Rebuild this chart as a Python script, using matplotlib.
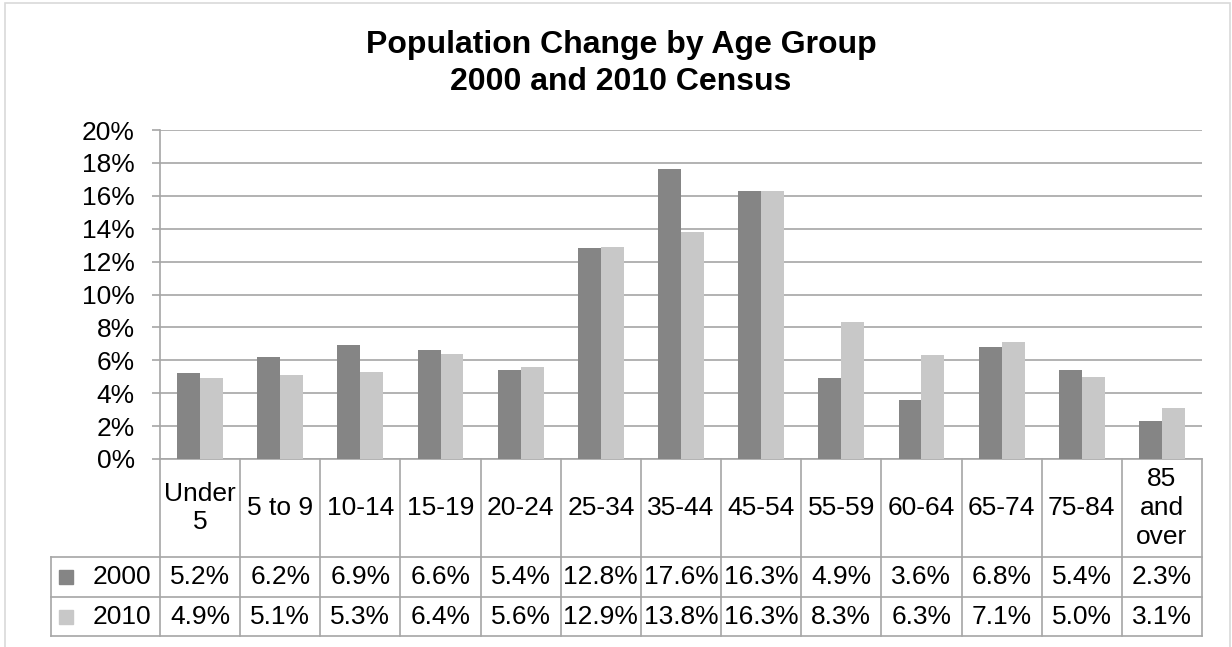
import numpy as np
import matplotlib.pyplot as plt
from matplotlib.patches import Rectangle

plt.rcParams['font.family'] = ['Liberation Sans', 'DejaVu Sans']

age_groups = ["Under\n5", "5 to 9", "10-14", "15-19", "20-24", "25-34", "35-44",
              "45-54", "55-59", "60-64", "65-74", "75-84", "85\nand\nover"]
pct_2000 = [5.2, 6.2, 6.9, 6.6, 5.4, 12.8, 17.6, 16.3, 4.9, 3.6, 6.8, 5.4, 2.3]
pct_2010 = [4.9, 5.1, 5.3, 6.4, 5.6, 12.9, 13.8, 16.3, 8.3, 6.3, 7.1, 5.0, 3.1]
series_names = ["2000", "2010"]
y_ticks = [0, 2, 4, 6, 8, 10, 12, 14, 16, 18, 20]

W, H = 1232, 647
dark, light = "#858585", "#c8c8c8"
grid_col = "#a6a6a6"
fs = 19

fig = plt.figure(figsize=(W / 100, H / 100), dpi=100)

# outer chart border
fig.patches.append(Rectangle((5 / W, -0.05), 1225 / W, 1.05 - 3 / H,
                             transform=fig.transFigure, fill=False,
                             edgecolor="#d9d9d9", linewidth=1.2))

# plot area in pixels
left, right, top, bottom = 160, 1202, 130, 459
ax = fig.add_axes([left / W, 1 - bottom / H, (right - left) / W, (bottom - top) / H])

n = len(age_groups)
x = np.arange(n)
w = 1 / 3.5  # excel gap width 150%
ax.bar(x - w / 2, pct_2000, w, color=dark, zorder=3)
ax.bar(x + w / 2, pct_2010, w, color=light, zorder=3)

ax.set_xlim(-0.5, n - 0.5)
ax.set_ylim(0, 20)
ax.set_yticks(y_ticks)
ax.set_yticklabels([f"{t}%" for t in y_ticks], fontsize=fs)
ax.set_xticks([])
ax.yaxis.grid(True, color=grid_col, linewidth=1.2, zorder=0)
ax.tick_params(axis="y", length=6, width=1.2, color=grid_col, pad=12)
for s in ["top", "right"]:
    ax.spines[s].set_visible(False)
for s in ["left", "bottom"]:
    ax.spines[s].set_color(grid_col)
    ax.spines[s].set_linewidth(1.2)

# data table under the axis (axes coordinates)
ph = bottom - top
row_hdr = -(557 - bottom) / ph
row_a = -(597 - bottom) / ph
row_b = -(636 - bottom) / ph
leg_left = -(left - 51) / (right - left)
lkw = dict(transform=ax.transAxes, color=grid_col, linewidth=1.2, clip_on=False)

for i in range(n + 1):
    ax.plot([i / n, i / n], [0, row_b], **lkw)
for yy in [row_hdr, row_a, row_b]:
    ax.plot([leg_left, 1], [yy, yy], **lkw)
ax.plot([leg_left, leg_left], [row_hdr, row_b], **lkw)

for i, lab in enumerate(age_groups):
    cx = (i + 0.5) / n
    ax.text(cx, row_hdr / 2, lab, transform=ax.transAxes, ha="center", va="center",
            fontsize=fs, linespacing=1.25)
    ax.text(cx, (row_hdr + row_a) / 2, f"{pct_2000[i]:.1f}%", transform=ax.transAxes,
            ha="center", va="center", fontsize=fs)
    ax.text(cx, (row_a + row_b) / 2, f"{pct_2010[i]:.1f}%", transform=ax.transAxes,
            ha="center", va="center", fontsize=fs)

# legend keys inside the table
key_w = 14 / (right - left)
key_h = 14 / ph
for name, col, (y0, y1) in zip(series_names, [dark, light],
                               [(row_hdr, row_a), (row_a, row_b)]):
    cy = (y0 + y1) / 2
    ax.add_patch(Rectangle((leg_left + 8 / (right - left), cy - key_h / 2), key_w, key_h,
                           transform=ax.transAxes, color=col, clip_on=False))
    ax.text(-9 / (right - left), cy, name, transform=ax.transAxes,
            ha="right", va="center", fontsize=fs)

fig.text(0.504, 1 - 53 / H, "Population Change by Age Group", ha="center",
         va="baseline", fontsize=23, fontweight="bold")
fig.text(0.504, 1 - 90 / H, "2000 and 2010 Census", ha="center",
         va="baseline", fontsize=23, fontweight="bold")

fig.savefig("out.png", dpi=100)
